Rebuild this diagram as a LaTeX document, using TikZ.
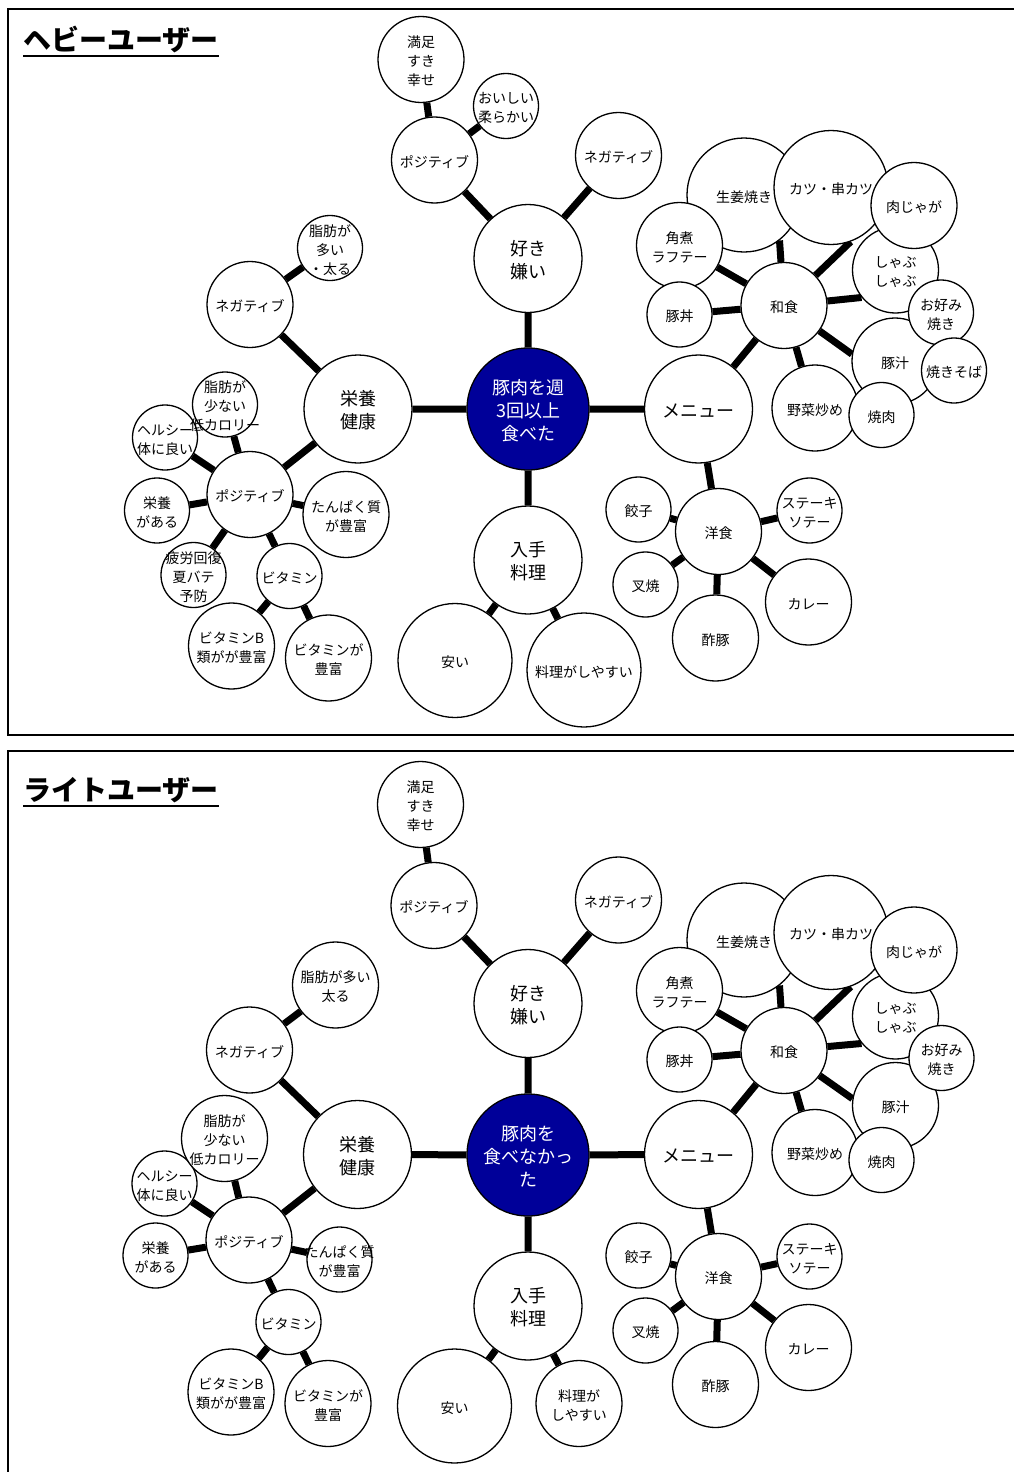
\documentclass[tikz,border=0pt]{standalone}
\usepackage{fontspec}
\setmainfont{Noto Sans CJK JP}
\usetikzlibrary{backgrounds}
\definecolor{coreblue}{RGB}{0,0,153}
\newcommand{\btx}[1]{\makebox[0pt]{\raisebox{-3.5pt}[\height][\depth]{\begin{tabular}{@{}c@{}}#1\end{tabular}}}}
\tikzset{
  bubS/.style={circle, draw, fill=white, line width=1.3pt, inner sep=0pt,
    minimum size=65pt, font=\fontsize{14}{19}\selectfont},
  bubM/.style={bubS, minimum size=86pt},
  bubL/.style={bubS, minimum size=108pt, font=\fontsize{18}{23}\selectfont},
  bubXL/.style={bubS, minimum size=114pt},
  core/.style={bubS, minimum size=122pt, fill=coreblue, text=white,
    font=\fontsize{18}{23}\selectfont},
  link/.style={line width=7pt},
  frame/.style={line width=2pt},
  ttl/.style={anchor=base west, inner sep=0pt, font=\fontsize{28}{30}\selectfont\bfseries},
}

\begin{document}
\begin{tikzpicture}[x=1pt,y=-1pt]
\useasboundingbox (0,0) rectangle (1014,1472);

% frames
\draw[frame] (1014,9) -- (8,9) -- (8,735) -- (1014,735);
\draw[frame] (1014,751) -- (8,751) -- (8,1472);

% ---------- heavy users ----------
\node[ttl] (htitle) at (23,51) {ヘビーユーザー};
\draw[frame] ([yshift=-5pt]htitle.base west) -- ([yshift=-5pt]htitle.base east);

\node[core] (hcore) at (528,409) {\btx{豚肉を週\\3回以上\\食べた}};
\node[bubL] (hlike) at (528,258.5) {\btx{好き\\嫌い}};
\node[bubM] (hlpos) at (434.5,160) {\btx{ポジティブ}};
\node[bubM] (hlneg) at (618.5,155.5) {\btx{ネガティブ}};
\node[bubM] (hsat) at (421,59.5) {\btx{満足\\すき\\幸せ}};
\node[bubS] (htasty) at (506,106) {\btx{おいしい\\柔らかい}};

\node[bubL] (hhealth) at (358,409) {\btx{栄養\\健康}};
\node[bubM] (hhneg) at (250,304.5) {\btx{ネガティブ}};
\node[bubS] (hfat) at (330,248) {\btx{脂肪が\\多い\\・太る}};
\node[bubM] (hhpos) at (250,494.5) {\btx{ポジティブ}};
\node[bubS] (hgood) at (165,437.5) {\btx{ヘルシー\\体に良い}};
\node[bubS] (hlow) at (225,404.5) {\btx{脂肪が\\少ない\\低カロリー}};
\node[bubS] (hnutr) at (157,510.5) {\btx{栄養\\がある}};
\node[bubM] (hprot) at (346,514.5) {\btx{たんぱく質\\が豊富}};
\node[bubS] (htired) at (193.5,575) {\btx{疲労回復\\夏バテ\\予防}};
\node[bubS] (hvit) at (289.5,576) {\btx{ビタミン}};
\node[bubM] (hvitb) at (231.5,646) {\btx{ビタミンB\\類がが豊富}};
\node[bubM] (hvitr) at (328.5,658) {\btx{ビタミンが\\豊富}};

\node[bubL] (heasy) at (528,560) {\btx{入手\\料理}};
\node[bubXL] (hcheap) at (455,660.5) {\btx{安い}};
\node[bubXL] (hcook) at (584,670) {\btx{料理がしやすい}};

\node[bubL] (hmenu) at (698.5,409) {\btx{メニュー}};
\node[bubXL] (hginger) at (744,195) {\btx{生姜焼き}};
\node[bubM] (hkaku) at (679.5,245.5) {\btx{角煮\\ラフテー}};
\node[bubS] (hdon) at (679.5,314.5) {\btx{豚丼}};
\node[bubXL] (hkatsu) at (831,187.5) {\btx{カツ・串カツ}};
\node[bubM] (hshabu) at (895.5,270) {\btx{しゃぶ\\しゃぶ}};
\node[bubM] (hniku) at (914,205.5) {\btx{肉じゃが}};
\node[bubM] (hjiru) at (895,361) {\btx{豚汁}};
\node[bubS] (hokono) at (941,312.5) {\btx{お好み\\焼き}};
\node[bubS] (hsoba) at (954,370.5) {\btx{焼きそば}};
\node[bubM] (hyasai) at (815,408) {\btx{野菜炒め}};
\node[bubS] (hyaki) at (881.5,415) {\btx{焼肉}};
\node[bubM] (hjp) at (784,305.5) {\btx{和食}};

\node[bubM] (hwest) at (718.5,531.5) {\btx{洋食}};
\node[bubS] (hgyoza) at (638.5,509.5) {\btx{餃子}};
\node[bubS] (hsteak) at (809.5,510.5) {\btx{ステーキ\\ソテー}};
\node[bubS] (hchashu) at (645.5,584.5) {\btx{叉焼}};
\node[bubM] (hcurry) at (808.5,602) {\btx{カレー}};
\node[bubM] (hsubuta) at (715.5,638) {\btx{酢豚}};

\begin{pgfonlayer}{background}
\draw[link] (hcore) -- (hlike) (hcore) -- (hhealth) (hcore) -- (hmenu) (hcore) -- (heasy)
  (hlike) -- (hlpos) (hlike) -- (hlneg) (hlpos) -- (hsat) (hlpos) -- (htasty)
  (hhealth) -- (hhneg) (hhneg) -- (hfat) (hhealth) -- (hhpos)
  (hhpos) -- (hlow) (hhpos) -- (hgood) (hhpos) -- (hnutr) (hhpos) -- (htired)
  (hhpos) -- (hvit) (hhpos) -- (hprot) (hvit) -- (hvitb) (hvit) -- (hvitr)
  (heasy) -- (hcheap) (heasy) -- (hcook)
  (hmenu) -- (hjp) (hmenu) -- (hwest)
  (hjp) -- (hginger.-52) (hjp) -- (hkatsu.-70) (hjp) -- (hkaku) (hjp) -- (hdon)
  (hjp) -- (hshabu.219) (hjp) -- (hjiru.171) (hjp) -- (hyasai.108)
  (hwest) -- (hgyoza) (hwest) -- (hsteak) (hwest) -- (hchashu)
  (hwest) -- (hcurry) (hwest) -- (hsubuta);
\end{pgfonlayer}

% ---------- light users ----------
\node[ttl] (ltitle) at (23,800.5) {ライトユーザー};
\draw[frame] ([yshift=-5pt]ltitle.base west) -- ([yshift=-5pt]ltitle.base east);

\node[core] (lcore) at (528,1155) {\btx{豚肉を\\食べなかっ\\た}};
\node[bubL] (llike) at (528,1003.5) {\btx{好き\\嫌い}};
\node[bubM] (llpos) at (434,905.5) {\btx{ポジティブ}};
\node[bubM] (llneg) at (618.5,900) {\btx{ネガティブ}};
\node[bubM] (lsat) at (420.5,804.5) {\btx{満足\\すき\\幸せ}};

\node[bubL] (lhealth) at (357.5,1154.5) {\btx{栄養\\健康}};
\node[bubM] (lhneg) at (249.5,1050) {\btx{ネガティブ}};
\node[bubM] (lfat) at (335.5,985) {\btx{脂肪が多い\\太る}};
\node[bubM] (lhpos) at (249,1240) {\btx{ポジティブ}};
\node[bubS] (lgood) at (164.5,1183.5) {\btx{ヘルシー\\体に良い}};
\node[bubM] (llow) at (224.5,1138.5) {\btx{脂肪が\\少ない\\低カロリー}};
\node[bubS] (lnutr) at (155.5,1255.5) {\btx{栄養\\がある}};
\node[bubS] (lprot) at (339.5,1259.5) {\btx{たんぱく質\\が豊富}};
\node[bubS] (lvit) at (288.5,1322) {\btx{ビタミン}};
\node[bubM] (lvitb) at (231,1392) {\btx{ビタミンB\\類がが豊富}};
\node[bubM] (lvitr) at (328,1403.5) {\btx{ビタミンが\\豊富}};

\node[bubL] (leasy) at (528,1306) {\btx{入手\\料理}};
\node[bubXL] (lcheap) at (454.5,1406) {\btx{安い}};
\node[bubM] (lcook) at (579,1403.5) {\btx{料理が\\しやすい}};

\node[bubL] (lmenu) at (698.5,1154.5) {\btx{メニュー}};
\node[bubXL] (lginger) at (744,940) {\btx{生姜焼き}};
\node[bubM] (lkaku) at (679.5,990.5) {\btx{角煮\\ラフテー}};
\node[bubS] (ldon) at (679.5,1059.5) {\btx{豚丼}};
\node[bubXL] (lkatsu) at (831,932.5) {\btx{カツ・串カツ}};
\node[bubM] (lshabu) at (895.5,1016) {\btx{しゃぶ\\しゃぶ}};
\node[bubM] (lniku) at (914,950) {\btx{肉じゃが}};
\node[bubM] (ljiru) at (895.5,1105.5) {\btx{豚汁}};
\node[bubS] (lokono) at (941.5,1058) {\btx{お好み\\焼き}};
\node[bubM] (lyasai) at (815,1152.5) {\btx{野菜炒め}};
\node[bubS] (lyaki) at (881.5,1160) {\btx{焼肉}};
\node[bubM] (ljp) at (784,1050.5) {\btx{和食}};

\node[bubM] (lwest) at (718.5,1276.5) {\btx{洋食}};
\node[bubS] (lgyoza) at (638.5,1255.5) {\btx{餃子}};
\node[bubS] (lsteak) at (809.5,1256.5) {\btx{ステーキ\\ソテー}};
\node[bubS] (lchashu) at (645.5,1330.5) {\btx{叉焼}};
\node[bubM] (lcurry) at (808.5,1347.5) {\btx{カレー}};
\node[bubM] (lsubuta) at (715.5,1384.5) {\btx{酢豚}};

\begin{pgfonlayer}{background}
\draw[link] (lcore) -- (llike) (lcore) -- (lhealth) (lcore) -- (lmenu) (lcore) -- (leasy)
  (llike) -- (llpos) (llike) -- (llneg) (llpos) -- (lsat)
  (lhealth) -- (lhneg) (lhneg) -- (lfat) (lhealth) -- (lhpos)
  (lhpos) -- (llow) (lhpos) -- (lgood) (lhpos) -- (lnutr)
  (lhpos) -- (lvit) (lhpos) -- (lprot) (lvit) -- (lvitb) (lvit) -- (lvitr)
  (leasy) -- (lcheap) (leasy) -- (lcook)
  (lmenu) -- (ljp) (lmenu) -- (lwest)
  (ljp) -- (lginger.-52) (ljp) -- (lkatsu.-70) (ljp) -- (lkaku) (ljp) -- (ldon)
  (ljp) -- (lshabu.219) (ljp) -- (ljiru.171) (ljp) -- (lyasai.108)
  (lwest) -- (lgyoza) (lwest) -- (lsteak) (lwest) -- (lchashu)
  (lwest) -- (lcurry) (lwest) -- (lsubuta);
\end{pgfonlayer}
\end{tikzpicture}
\end{document}
